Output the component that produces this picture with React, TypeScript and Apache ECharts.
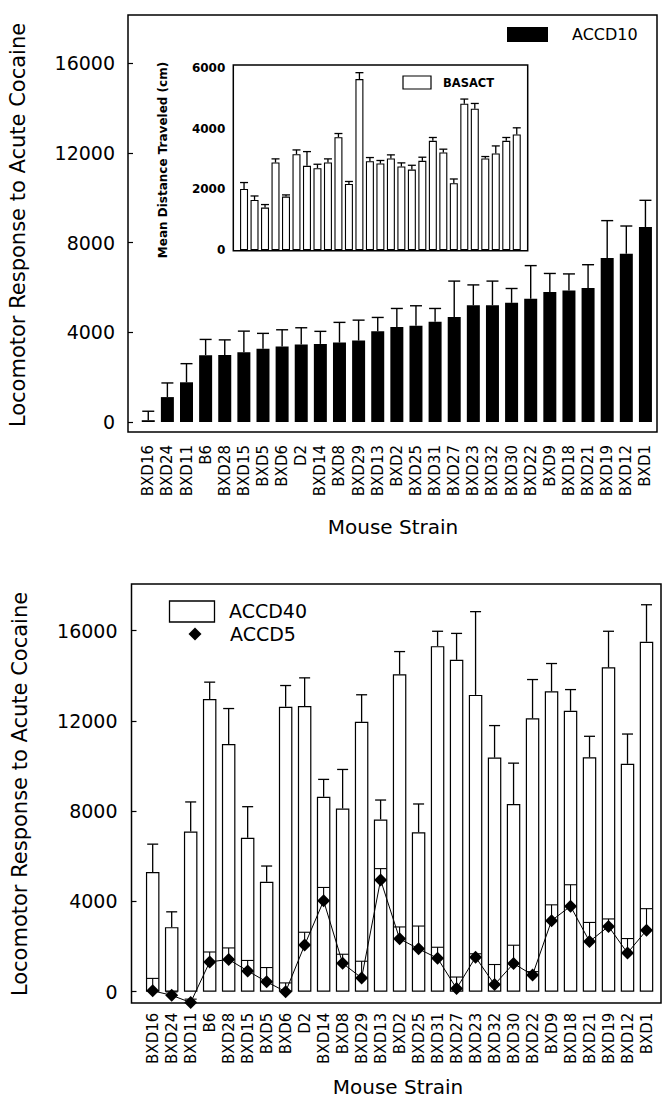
import React, { useEffect, useRef } from "react";
import * as echarts from "echarts";

const strains = ["BXD16","BXD24","BXD11","B6","BXD28","BXD15","BXD5","BXD6","D2","BXD14","BXD8","BXD29","BXD13","BXD2","BXD25","BXD31","BXD27","BXD23","BXD32","BXD30","BXD22","BXD9","BXD18","BXD21","BXD19","BXD12","BXD1"];

const accd10 = [80, 1110, 1770, 2980, 2990, 3110, 3270, 3370, 3450, 3480, 3540, 3630, 4040, 4230, 4290, 4470, 4680, 5200, 5200, 5310, 5490, 5790, 5860, 5970, 7310, 7500, 8690];
const accd10Sem = [400, 630, 830, 700, 670, 940, 680, 740, 750, 560, 900, 910, 620, 830, 890, 590, 1600, 910, 1080, 640, 1480, 830, 740, 1040, 1665, 1235, 1190];

const basact = [2014, 1651, 1398, 2884, 1761, 3159, 2774, 2697, 2884, 3720, 2179, 5636, 2928, 2851, 3016, 2752, 2653, 2939, 3599, 3214, 2201, 4821, 4656, 3016, 3181, 3599, 3808];
const basactSem = [210, 130, 100, 120, 55, 140, 470, 130, 120, 120, 80, 210, 120, 100, 120, 120, 140, 120, 110, 110, 140, 155, 175, 65, 250, 110, 220];

const accd40 = [5300, 2860, 7100, 12970, 10980, 6820, 4870, 12630, 12660, 8640, 8120, 11960, 7635, 14065, 7070, 15315, 14710, 13155, 10375, 8320, 12115, 13315, 12450, 10390, 14375, 10100, 15510];
const accd40Sem = [1240, 680, 1310, 750, 1570, 1380, 700, 940, 1250, 770, 1730, 1200, 860, 1010, 1250, 660, 1170, 3690, 1420, 1810, 1720, 1230, 940, 930, 1600, 1320, 1640];

const accd5 = [40, -160, -480, 1320, 1430, 920, 440, 0, 2065, 4030, 1260, 610, 4955, 2345, 1900, 1480, 140, 1530, 315, 1250, 740, 3150, 3790, 2225, 2895, 1715, 2725];
const accd5Sem = [550, 150, 150, 440, 510, 465, 630, 390, 570, 590, 400, 740, 500, 525, 1010, 490, 510, 150, 890, 810, 150, 700, 950, 845, 330, 640, 955];

const yTicksMain = [0, 4000, 8000, 12000, 16000];
const yTicksInset = [0, 2000, 4000, 6000];

const FONT = "DejaVu Sans";

function errRender(capW: number, lw: number) {
  return (params: any, api: any) => {
    const i = api.value(0);
    const lo = api.value(1);
    const hi = api.value(2);
    const p0 = api.coord([i, lo]);
    const p1 = api.coord([i, hi]);
    const style = { stroke: "#000", lineWidth: lw, fill: "none" };
    return {
      type: "group",
      children: [
        { type: "line", shape: { x1: p0[0], y1: p0[1], x2: p1[0], y2: p1[1] }, style },
        { type: "line", shape: { x1: p1[0] - capW / 2, y1: p1[1], x2: p1[0] + capW / 2, y2: p1[1] }, style },
      ],
    };
  };
}

function errData(vals: number[], sems: number[]) {
  return vals.map((v, i) => [i, v, v + sems[i]]);
}

const plainNum = (v: number) => String(v);

function yAxisMain(gridIndex: number, offset: number, margin: number) {
  return {
    type: "value",
    gridIndex,
    min: yTicksMain[0],
    max: yTicksMain[yTicksMain.length - 1],
    interval: 4000,
    offset,
    axisLine: { show: false },
    axisTick: { show: true, inside: true, length: 5, lineStyle: { color: "#000", width: 1.2 } },
    splitLine: { show: false },
    axisLabel: { margin, color: "#000", fontSize: 19, fontFamily: FONT, formatter: plainNum },
  };
}

function xAxisCat(gridIndex: number, margin: number, show: boolean) {
  return {
    type: "category",
    gridIndex,
    data: strains,
    axisLine: { show: false },
    axisTick: { show: false },
    splitLine: { show: false },
    axisLabel: {
      show,
      interval: 0,
      rotate: 90,
      margin,
      color: "#000",
      fontSize: 15,
      fontFamily: FONT,
    },
  };
}

export default function App() {
  const ref = useRef<HTMLDivElement>(null);
  useEffect(() => {
    if (!ref.current) return;
    const chart = echarts.init(ref.current, null, { renderer: "svg", width: 663, height: 1104 });
    const frameStyle = { fill: "none", stroke: "#000", lineWidth: 1.5 };
    const option: any = {
      animation: false,
      backgroundColor: "#fff",
      grid: [
        { left: 138.7, top: 63, width: 516.3, height: 359 },
        { left: 238.8, top: 68, width: 283.2, height: 182 },
        { left: 143.2, top: 630.7, width: 512.8, height: 361 },
      ],
      xAxis: [xAxisCat(0, 23, true), xAxisCat(1, 8, false), xAxisCat(2, 21, true)],
      yAxis: [
        yAxisMain(0, 10.7, 13),
        {
          type: "value",
          gridIndex: 1,
          min: yTicksInset[0],
          max: yTicksInset[yTicksInset.length - 1],
          interval: 2000,
          offset: 5.5,
          axisLine: { show: false },
          axisTick: { show: false },
          splitLine: { show: false },
          axisLabel: { margin: 8, color: "#000", fontSize: 12, fontWeight: "bold", fontFamily: FONT, formatter: plainNum },
        },
        yAxisMain(2, 11.7, 14),
      ],
      series: [
        {
          type: "bar",
          name: "ACCD10",
          xAxisIndex: 0,
          yAxisIndex: 0,
          data: accd10,
          barWidth: 13,
          itemStyle: { color: "#000" },
          z: 2,
        },
        {
          type: "custom",
          xAxisIndex: 0,
          yAxisIndex: 0,
          data: errData(accd10, accd10Sem),
          renderItem: errRender(12, 1.4),
          z: 3,
        },
        {
          type: "bar",
          name: "BASACT",
          xAxisIndex: 1,
          yAxisIndex: 1,
          data: basact,
          barWidth: 8,
          itemStyle: { color: "#fff", borderColor: "#000", borderWidth: 1.1 },
          z: 2,
        },
        {
          type: "custom",
          xAxisIndex: 1,
          yAxisIndex: 1,
          data: errData(basact, basactSem),
          renderItem: errRender(8, 1.3),
          z: 3,
        },
        {
          type: "bar",
          name: "ACCD40",
          xAxisIndex: 2,
          yAxisIndex: 2,
          data: accd40,
          barWidth: 13.5,
          itemStyle: { color: "#fff", borderColor: "#000", borderWidth: 1.2 },
          z: 2,
        },
        {
          type: "custom",
          xAxisIndex: 2,
          yAxisIndex: 2,
          data: errData(accd40, accd40Sem),
          renderItem: errRender(11, 1.3),
          z: 3,
        },
        {
          type: "custom",
          xAxisIndex: 2,
          yAxisIndex: 2,
          data: errData(accd5, accd5Sem),
          renderItem: errRender(12, 1.1),
          z: 3,
        },
        {
          type: "line",
          name: "ACCD5",
          xAxisIndex: 2,
          yAxisIndex: 2,
          data: accd5,
          symbol: "diamond",
          symbolSize: 13,
          showSymbol: true,
          clip: false,
          itemStyle: { color: "#000" },
          lineStyle: { color: "#000", width: 1 },
          z: 5,
        },
      ],
      graphic: [
        { type: "rect", shape: { x: 128, y: 15, width: 529, height: 417 }, style: frameStyle, z: 10 },
        { type: "rect", shape: { x: 233.3, y: 65, width: 294.4, height: 185.7 }, style: frameStyle, z: 10 },
        { type: "rect", shape: { x: 131.5, y: 584, width: 529.5, height: 419 }, style: frameStyle, z: 10 },
        { type: "rect", shape: { x: 507, y: 27, width: 41, height: 15 }, style: { fill: "#000" }, z: 10 },
        { type: "text", x: 572, y: 34.5, style: { text: "ACCD10", fill: "#000", fontSize: 16, fontFamily: FONT, align: "left", verticalAlign: "middle" }, z: 10 },
        { type: "rect", shape: { x: 403, y: 76, width: 28, height: 13 }, style: { fill: "#fff", stroke: "#000", lineWidth: 1.2 }, z: 10 },
        { type: "text", x: 443, y: 82.5, style: { text: "BASACT", fill: "#000", fontSize: 11.5, fontWeight: "bold", fontFamily: FONT, align: "left", verticalAlign: "middle" }, z: 10 },
        { type: "rect", shape: { x: 169.5, y: 601, width: 45, height: 21 }, style: { fill: "#fff", stroke: "#000", lineWidth: 1.3 }, z: 10 },
        { type: "text", x: 229, y: 611, style: { text: "ACCD40", fill: "#000", fontSize: 19, fontFamily: FONT, align: "left", verticalAlign: "middle" }, z: 10 },
        { type: "polygon", shape: { points: [[195, 627.5], [201.5, 634], [195, 640.5], [188.5, 634]] }, style: { fill: "#000" }, z: 10 },
        { type: "text", x: 230, y: 634, style: { text: "ACCD5", fill: "#000", fontSize: 19, fontFamily: FONT, align: "left", verticalAlign: "middle" }, z: 10 },
        { type: "text", x: 18, y: 225, rotation: Math.PI / 2, style: { text: "Locomotor Response to Acute Cocaine", fill: "#000", fontSize: 21, fontFamily: FONT, align: "center", verticalAlign: "middle" }, z: 10 },
        { type: "text", x: 393, y: 527, style: { text: "Mouse Strain", fill: "#000", fontSize: 20, fontFamily: FONT, align: "center", verticalAlign: "middle" }, z: 10 },
        { type: "text", x: 163, y: 160, rotation: Math.PI / 2, style: { text: "Mean Distance Traveled (cm)", fill: "#000", fontSize: 12, fontWeight: "bold", fontFamily: FONT, align: "center", verticalAlign: "middle" }, z: 10 },
        { type: "text", x: 20, y: 794, rotation: Math.PI / 2, style: { text: "Locomotor Response to Acute Cocaine", fill: "#000", fontSize: 21, fontFamily: FONT, align: "center", verticalAlign: "middle" }, z: 10 },
        { type: "text", x: 398, y: 1087, style: { text: "Mouse Strain", fill: "#000", fontSize: 20, fontFamily: FONT, align: "center", verticalAlign: "middle" }, z: 10 },
      ],
    };
    chart.setOption(option);
    return () => chart.dispose();
  }, []);
  return (
    <div
      ref={ref}
      style={{ position: "absolute", left: 0, top: 0, width: 663, height: 1104, background: "#fff" }}
    />
  );
}
